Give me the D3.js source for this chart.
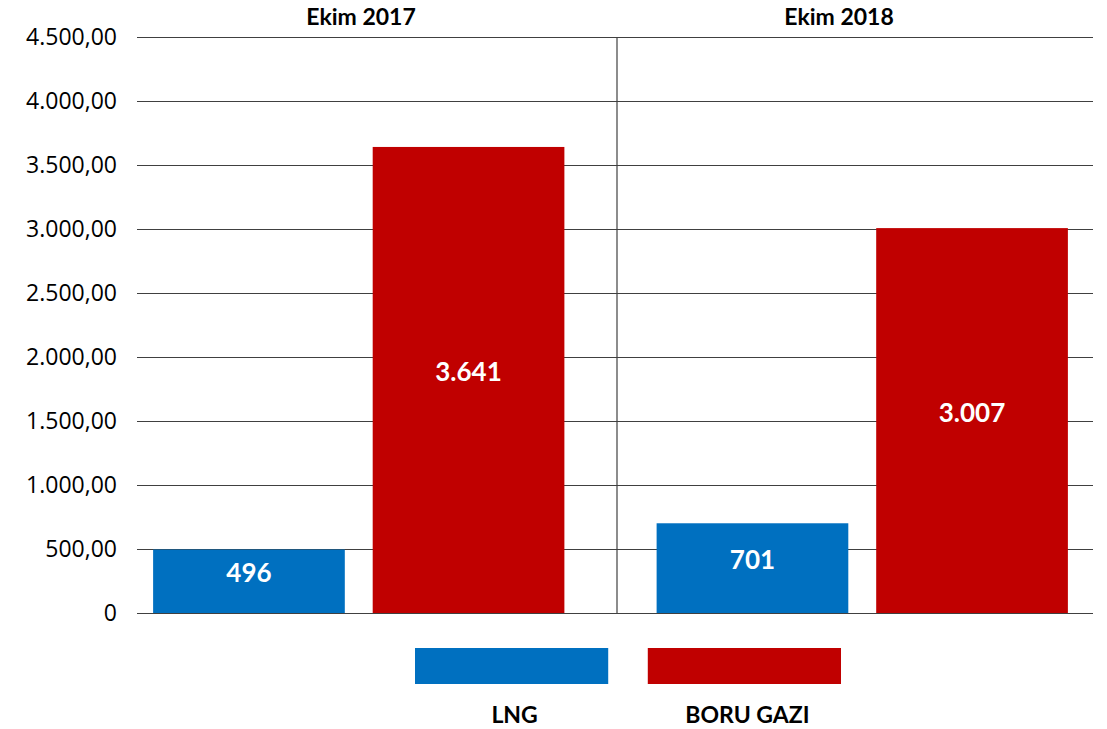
<!DOCTYPE html>
<html>
<head>
<meta charset="utf-8">
<script src="https://cdn.jsdelivr.net/npm/d3@7"></script>
<style>
  body { margin: 0; background: #fff; }
  svg { display: block; }
</style>
</head>
<body>
<svg></svg>
<script>
// data
let periods = ["Ekim 2017", "Ekim 2018"]
let series = ["LNG", "BORU GAZI"]
let lngValues = [496, 701]
let boruValues = [3641, 3007]
let yTicks = [0, 500, 1000, 1500, 2000, 2500, 3000, 3500, 4000, 4500]
let colors = ["#0070C0", "#C00000"]

let width = 1107
let height = 729
let plotLeft = 137
let plotRight = 1093
let plotTop = 37
let plotBottom = 613

let svg = d3.select('svg')
  .attr('width', width)
  .attr('height', height)

let rows = periods.map((p, i) => ({period: p, values: [lngValues[i], boruValues[i]]}))

// halves of the plot (divider + titles)
let xHalf = d3.scaleBand()
  .domain(periods)
  .range([plotLeft, plotRight])

// bar groups sit a bit wider than the plot halves in the original
let x0 = d3.scaleBand()
  .domain(periods)
  .range([plotLeft - 30, plotRight + 21])

let x1 = d3.scaleBand()
  .domain(series)
  .range([0, x0.bandwidth()])
  .paddingInner(0.127)
  .paddingOuter(0.21)

let y = d3.scaleLinear()
  .domain([0, 4500])
  .range([plotBottom, plotTop])

let trLocale = d3.formatLocale({decimal: ",", thousands: ".", grouping: [3], currency: ["", ""]})
let tickFmt = trLocale.format(",.2f")
let valFmt = trLocale.format(",d")

// grid + y labels
let yAxis = d3.axisLeft(y)
  .tickValues(yTicks)
  .tickSize(-(plotRight - plotLeft))
  .tickPadding(20)
  .tickFormat(d => d === 0 ? "0" : tickFmt(d))

let yg = svg.append('g')
  .attr('transform', `translate(${plotLeft},0)`)
  .call(yAxis)
yg.select('.domain').remove()
yg.selectAll('.tick line').attr('stroke', '#404040').attr('stroke-width', 1.2)
yg.selectAll('.tick text')
  .attr('fill', '#000')
  .style('font-family', '"Open Sans", sans-serif')
  .style('font-size', '23px')

// divider between the two periods
svg.append('line')
  .attr('x1', xHalf(periods[1]) + 2).attr('x2', xHalf(periods[1]) + 2)
  .attr('y1', plotTop).attr('y2', plotBottom)
  .attr('stroke', '#404040')
  .attr('stroke-width', 1.2)

// period titles
svg.selectAll('.period')
  .data(periods)
  .join('text')
  .attr('class', 'period')
  .attr('x', d => xHalf(d) + xHalf.bandwidth() / 2 - 15)
  .attr('y', 25)
  .attr('text-anchor', 'middle')
  .style('font-family', 'Lato, sans-serif')
  .style('font-weight', 'bold')
  .style('font-size', '23px')
  .text(d => d)

// bars
let groups = svg.selectAll('.grp')
  .data(rows)
  .join('g')
  .attr('class', 'grp')
  .attr('transform', d => `translate(${x0(d.period)},0)`)

groups.selectAll('rect')
  .data(d => d.values.map((v, i) => ({key: series[i], value: v, idx: i})))
  .join('rect')
  .attr('x', d => x1(d.key))
  .attr('y', d => y(d.value))
  .attr('width', x1.bandwidth())
  .attr('height', d => y(0) - y(d.value))
  .attr('fill', d => colors[d.idx])

groups.selectAll('.val')
  .data(d => d.values.map((v, i) => ({key: series[i], value: v})))
  .join('text')
  .attr('class', 'val')
  .attr('x', d => x1(d.key) + x1.bandwidth() / 2)
  .attr('y', d => (y(d.value) + y(0)) / 2 - 8)
  .attr('dy', '0.35em')
  .attr('text-anchor', 'middle')
  .attr('fill', '#fff')
  .style('font-family', 'Lato, sans-serif')
  .style('font-weight', 'bold')
  .style('font-size', '26px')
  .text(d => valFmt(d.value))

// legend
let legX = d3.scaleBand()
  .domain(series)
  .range([415, 841])
  .paddingInner(0.17)

let leg = svg.selectAll('.leg')
  .data(series)
  .join('g')
  .attr('class', 'leg')

leg.append('rect')
  .attr('x', d => legX(d))
  .attr('y', 648)
  .attr('width', legX.bandwidth())
  .attr('height', 36)
  .attr('fill', (d, i) => colors[i])

leg.append('text')
  .attr('x', d => legX(d) + legX.bandwidth() / 2 + 3)
  .attr('y', 723)
  .attr('text-anchor', 'middle')
  .style('font-family', 'Lato, sans-serif')
  .style('font-weight', 'bold')
  .style('font-size', '23px')
  .text(d => d)
</script>
</body>
</html>
